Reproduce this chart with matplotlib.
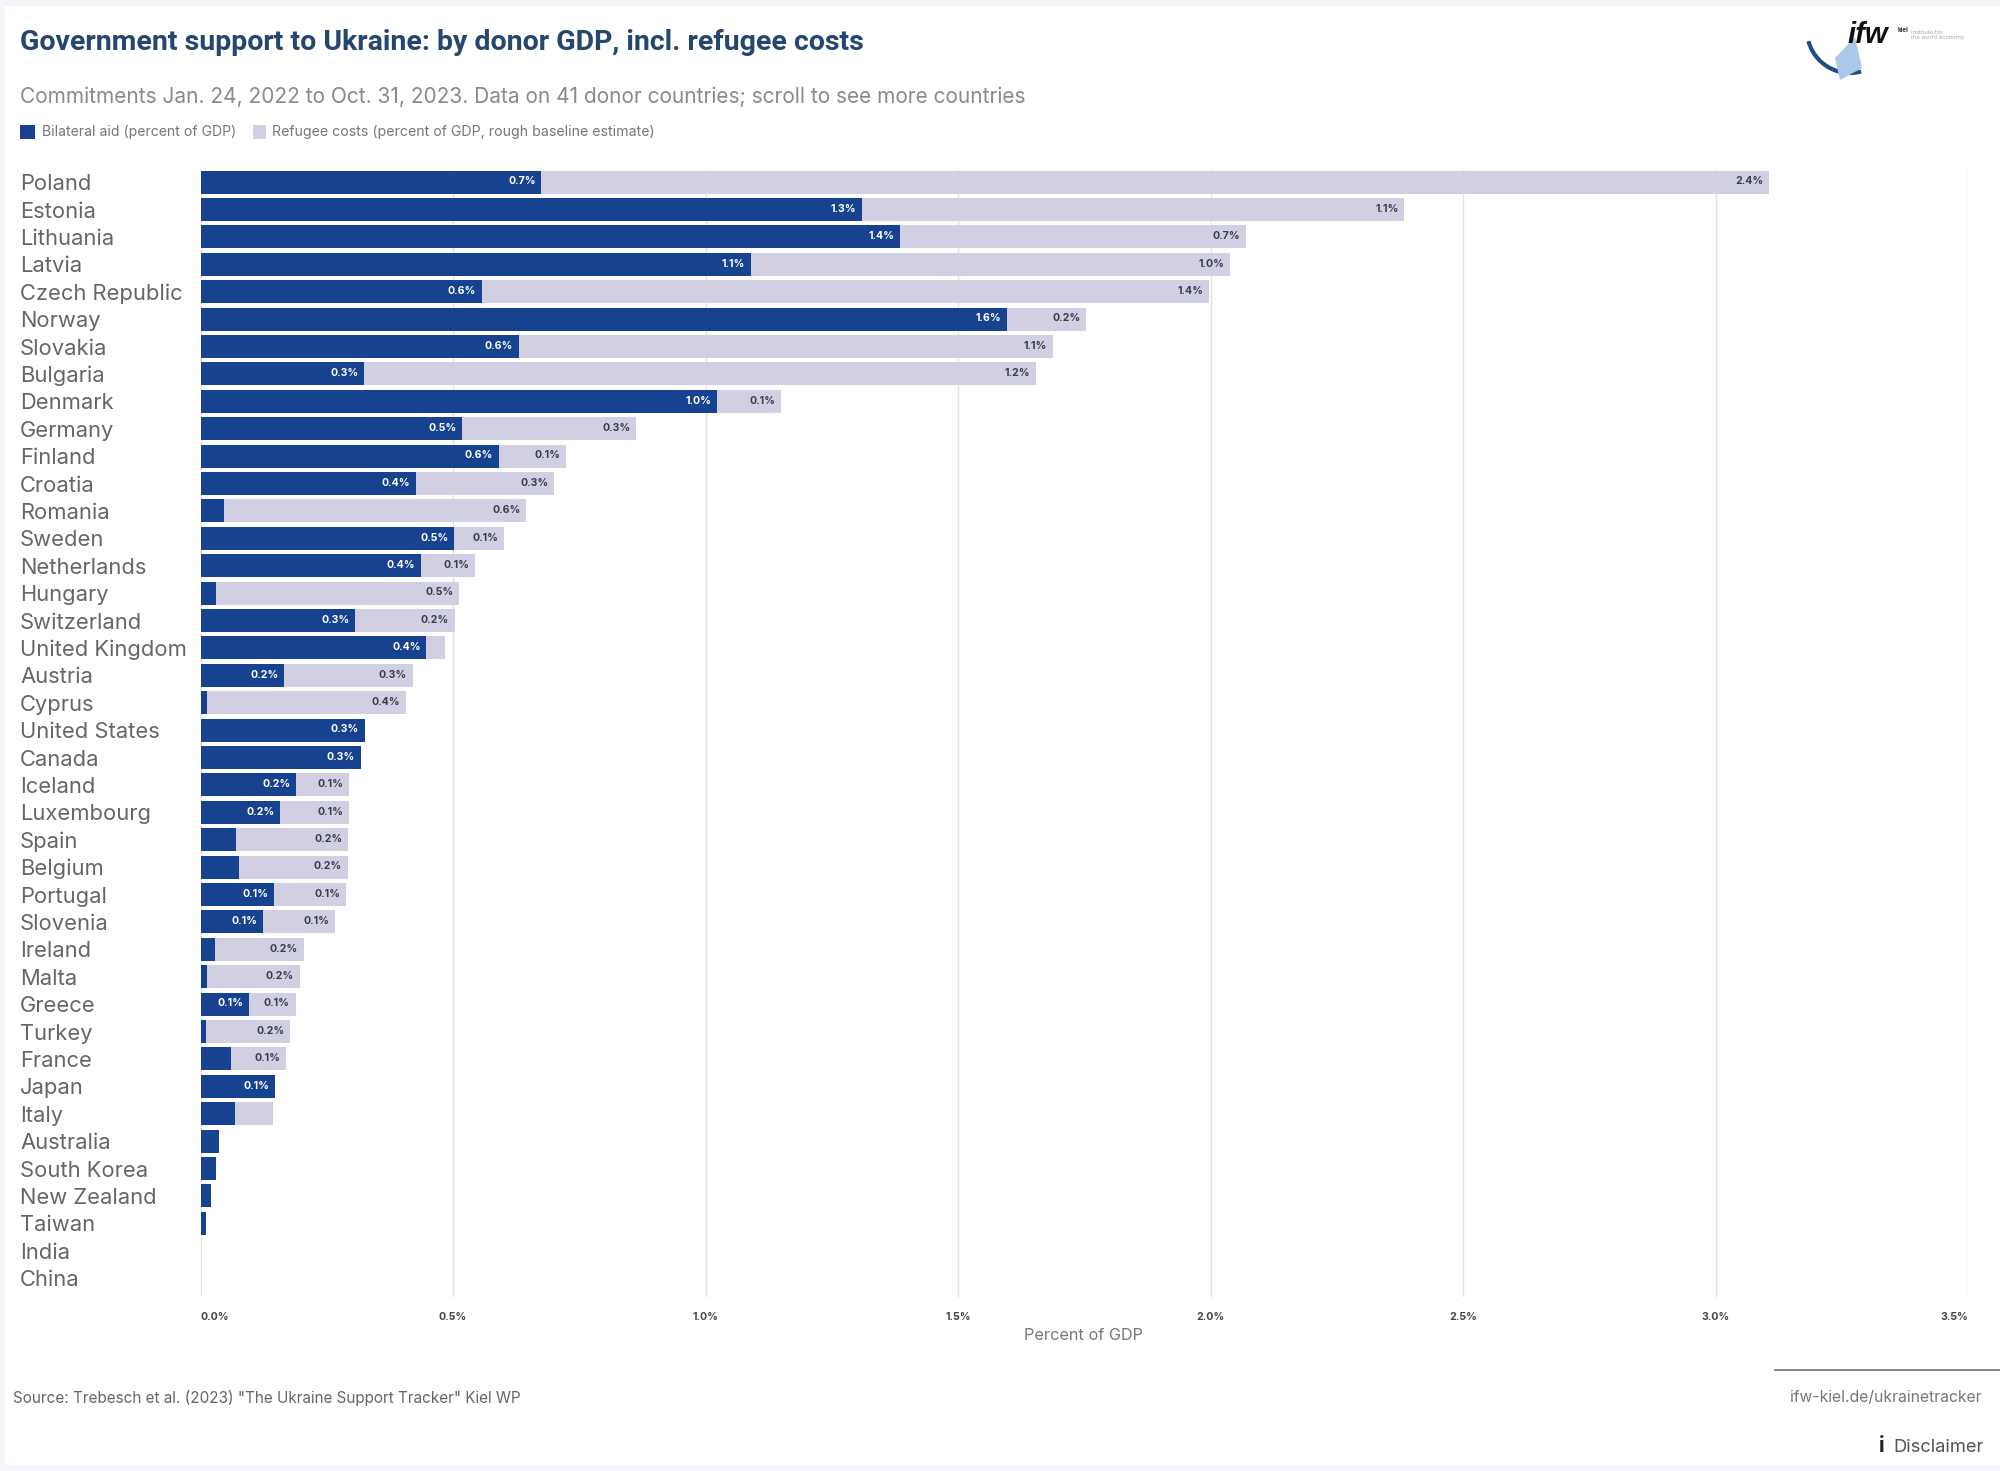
import matplotlib
matplotlib.use("Agg")
import matplotlib.pyplot as plt
from matplotlib.patches import Rectangle, Polygon, Arc

countries = ["Poland","Estonia","Lithuania","Latvia","Czech Republic","Norway","Slovakia","Bulgaria","Denmark","Germany",
             "Finland","Croatia","Romania","Sweden","Netherlands","Hungary","Switzerland","United Kingdom","Austria","Cyprus",
             "United States","Canada","Iceland","Luxembourg","Spain","Belgium","Portugal","Slovenia","Ireland","Malta",
             "Greece","Turkey","France","Japan","Italy","Australia","South Korea","New Zealand","Taiwan","India","China"]
bilateral = [0.675,1.31,1.386,1.089,0.557,1.596,0.63,0.324,1.022,0.518,
             0.59,0.426,0.047,0.502,0.436,0.031,0.306,0.447,0.165,0.012,
             0.325,0.317,0.189,0.158,0.071,0.077,0.145,0.123,0.029,0.0125,
             0.095,0.011,0.061,0.148,0.069,0.036,0.030,0.021,0.010,0.0008,0.0]
refugee = [2.431,1.074,0.684,0.949,1.44,0.157,1.058,1.33,0.127,0.345,
           0.133,0.274,0.598,0.098,0.107,0.481,0.197,0.036,0.255,0.394,
           0.0,0.0,0.104,0.135,0.221,0.214,0.143,0.144,0.175,0.1835,
           0.093,0.167,0.108,0.0,0.074,0.0,0.0,0.0,0.0,0.0,0.0]
bilateral_labels = ["0.7%","1.3%","1.4%","1.1%","0.6%","1.6%","0.6%","0.3%","1.0%","0.5%",
                    "0.6%","0.4%","","0.5%","0.4%","","0.3%","0.4%","0.2%","",
                    "0.3%","0.3%","0.2%","0.2%","","","0.1%","0.1%","","",
                    "0.1%","","","0.1%","","","","","","",""]
refugee_labels = ["2.4%","1.1%","0.7%","1.0%","1.4%","0.2%","1.1%","1.2%","0.1%","0.3%",
                  "0.1%","0.3%","0.6%","0.1%","0.1%","0.5%","0.2%","","0.3%","0.4%",
                  "","","0.1%","0.1%","0.2%","0.2%","0.1%","0.1%","0.2%","0.2%",
                  "0.1%","0.2%","0.1%","","","","","","","",""]
x_ticks = [0.0,0.5,1.0,1.5,2.0,2.5,3.0,3.5]
x_tick_labels = ["0.0%","0.5%","1.0%","1.5%","2.0%","2.5%","3.0%","3.5%"]

NAVY = "#17428f"
LIGHT = "#d0d0e2"
W, H = 2000, 1471
plt.rcParams["font.family"] = ["Inter", "DejaVu Sans"]

fig = plt.figure(figsize=(20, 14.71), dpi=100, facecolor="white")
def fx(p): return p / W
def fy(p): return 1 - p / H

ax = fig.add_axes([fx(200.6), fy(1297), fx(1968 - 200.6), (1297 - 170) / H])
ax.set_xlim(0, 3.5)
ax.set_ylim(40.69, -0.445)
pos = list(range(len(countries)))
ax.barh(pos, bilateral, height=0.84, color=NAVY, zorder=3)
ax.barh(pos, refugee, left=bilateral, height=0.84, color=LIGHT, zorder=3)

for i in pos:
    if bilateral_labels[i]:
        ax.annotate(bilateral_labels[i], (bilateral[i], i), xytext=(-4, 0.5), textcoords="offset points",
                    ha="right", va="center", fontsize=7.6, fontweight="bold", color="white", zorder=4)
    if refugee_labels[i]:
        ax.annotate(refugee_labels[i], (bilateral[i] + refugee[i], i), xytext=(-4, 0.5), textcoords="offset points",
                    ha="right", va="center", fontsize=7.6, fontweight="bold", color="#3a3a50", zorder=4)

ax.set_xticks(x_ticks)
ax.set_xticklabels(x_tick_labels, fontsize=7.6, fontweight="bold", color="#444444")
lbls = ax.get_xticklabels()
lbls[0].set_ha("left"); lbls[-1].set_ha("right")
ax.set_yticks(pos)
ax.set_yticklabels(countries, fontsize=15.8, color="#666666", ha="left")
ax.tick_params(axis="y", length=0, pad=130)
ax.tick_params(axis="x", length=0, pad=11)
ax.grid(axis="x", color="#e3e3e6", linewidth=1.0, zorder=0)
ax.set_axisbelow(True)
for s in ax.spines.values():
    s.set_visible(False)

# page edges
fig.add_artist(Rectangle((0, fy(6)), 1, 6 / H, transform=fig.transFigure, color="#f3f4f8", lw=0))
fig.add_artist(Rectangle((0, 0), 1, 6 / H, transform=fig.transFigure, color="#f5f5fb", lw=0))
fig.add_artist(Rectangle((0, 0), 5 / W, 1, transform=fig.transFigure, color="#f5f5fb", lw=0))

# header
fig.text(fx(20), fy(42), "Government support to Ukraine: by donor GDP, incl. refugee costs",
         fontsize=20.5, fontweight="bold", color="#24466f", va="center", family=["Roboto", "DejaVu Sans"])
fig.text(fx(20), fy(97), "Commitments Jan. 24, 2022 to Oct. 31, 2023. Data on 41 donor countries; scroll to see more countries",
         fontsize=15.0, color="#8a8a8e", va="center")
fig.add_artist(Rectangle((fx(20), fy(139)), 15 / W, 14 / H, transform=fig.transFigure, color=NAVY, lw=0))
fig.text(fx(42), fy(132), "Bilateral aid (percent of GDP)", fontsize=10.1, color="#777777", va="center")
fig.add_artist(Rectangle((fx(253), fy(139)), 13 / W, 14 / H, transform=fig.transFigure, color=LIGHT, lw=0))
fig.text(fx(272), fy(132), "Refugee costs (percent of GDP, rough baseline estimate)", fontsize=10.2, color="#777777", va="center")

# logo
fig.add_artist(Polygon([[fx(1855), fy(37)], [fx(1862), fy(68)], [fx(1840), fy(80)], [fx(1835), fy(58)]],
                       closed=True, transform=fig.transFigure, color="#a9c8ea", lw=0))
logo_ax = fig.add_axes([fx(1800), fy(75), 70 / W, 50 / H])
logo_ax.axis("off"); logo_ax.set_xlim(0, 70); logo_ax.set_ylim(0, 50)
logo_ax.add_patch(Arc((50, 45), 86, 86, theta1=195, theta2=285, color="#1f4e85", lw=3, clip_on=False))
fig.text(fx(1848), fy(35), "ifw", fontsize=21, fontweight="bold", style="italic", color="#111111", va="center",
         family=["Liberation Sans", "DejaVu Sans"])
fig.text(fx(1898), fy(30), "kiel", fontsize=4.5, fontweight="bold", color="#333333", va="center")
fig.text(fx(1911), fy(35), "institute for\nthe world economy", fontsize=4.2, color="#a5a5a5", va="center")

# footer
fig.text(fx(1083), fy(1336), "Percent of GDP", fontsize=11.7, color="#777777", ha="center", va="center")
fig.text(fx(13), fy(1398), "Source: Trebesch et al. (2023) \"The Ukraine Support Tracker\" Kiel WP",
         fontsize=11, color="#666666", va="center")
fig.add_artist(Rectangle((fx(1774), fy(1371)), 226 / W, 2 / H, transform=fig.transFigure, color="#888888", lw=0))
fig.text(fx(1982), fy(1398), "ifw-kiel.de/ukrainetracker", fontsize=11.3, color="#777777", ha="right", va="center")
fig.text(fx(1984), fy(1447), "Disclaimer", fontsize=13.2, color="#555555", ha="right", va="center")
fig.text(fx(1882), fy(1446), "i", fontsize=15, fontweight="bold", color="#222222", ha="center", va="center")

fig.savefig("out.png", dpi=100, facecolor="white")
